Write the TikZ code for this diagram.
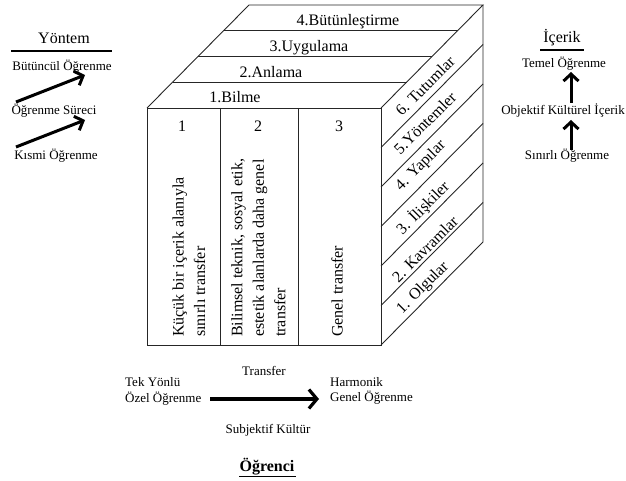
\documentclass[tikz,border=0pt]{standalone}
\usepackage{fontspec}
\setmainfont{Liberation Serif}
\usetikzlibrary{arrows.meta}
\begin{document}
\begin{tikzpicture}[x=1pt,y=-1pt,
  cube/.style={line width=0.9pt, draw=black!85, line join=miter},
  big/.style={font=\fontsize{16}{21.5}\selectfont, inner sep=0pt},
  sm/.style={font=\fontsize{13}{15.5}\selectfont, inner sep=0pt},
  arr/.style={line width=3pt, -{Straight Barb[length=7pt,width=15pt]}},
  barr/.style={line width=3.2pt, -{Straight Barb[length=8pt,width=19pt]}},
  rule/.style={line width=1.8pt},
]
\useasboundingbox (0,0) rectangle (626,481);

% ---- cube ----
\coordinate (FTL) at (147,108);
\coordinate (FTR) at (381,108);
\coordinate (FBR) at (381,345);
\coordinate (FBL) at (147,345);
\coordinate (BTL) at (249,5);
\coordinate (BTR) at (483,5);
\coordinate (BBR) at (483,242);
\draw[cube] (FTL) rectangle (FBR);
\draw[cube] (FTL) -- (BTL) -- (BTR) -- (FTR);
\draw[cube] (BTR) -- (BBR) -- (FBR);
% top face strips
\foreach \t in {0.25,0.5,0.75}{
  \draw[cube] (249-\t*102, 5+\t*103) -- (483-\t*102, 5+\t*103);
}
% right face strips
\foreach \k in {1,...,5}{
  \draw[cube] (381, 108+\k*39.5) -- (483, 5+\k*39.5);
}
% front columns
\draw[cube] (220,108) -- (220,345);
\draw[cube] (298,108) -- (298,345);

% top labels
\node[big, anchor=base] (t4) at (348,25.5) {4.Bütünleştirme};
\node[big, anchor=base] (t3) at (309,52) {3.Uygulama};
\node[big, anchor=base] (t2) at (271,77.5) {2.Anlama};
\node[big, anchor=base] (t1) at (235,102.5) {1.Bilme};

% column numbers
\node[big, anchor=base] (n1) at (182,132) {1};
\node[big, anchor=base] (n2) at (258,132) {2};
\node[big, anchor=base] (n3) at (339,132) {3};

% column texts
\node[big, rotate=90, anchor=west, align=left] (c1) at (189,337)
  {Küçük bir içerik alanıyla\\sınırlı transfer};
\node[big, rotate=90, anchor=west, align=left] (c2) at (258.5,337)
  {Bilimsel teknik, sosyal etik,\\estetik alanlarda daha genel\\transfer};
\node[big, rotate=90, anchor=west, align=left] (c3) at (337,337)
  {Genel transfer};

% right face labels
\node[big, rotate=45] (r6) at (425,86) {6. Tutumlar};
\node[big, rotate=45] (r5) at (425,123) {5.Yöntemler};
\node[big, rotate=45] (r4) at (421,166) {4. Yapılar};
\node[big, rotate=45] (r3) at (423,208) {3. İlişkiler};
\node[big, rotate=45] (r2) at (425,249) {2. Kavramlar};
\node[big, rotate=45] (r1) at (423,288) {1. Olgular};

% ---- left: Yöntem ----
\node[big, anchor=base] (yon) at (64,44) {Yöntem};
\draw[rule] (11,51) -- (112,51);
\node[sm, anchor=base] (bo) at (62,70.7) {Bütüncül Öğrenme};
\node[sm, anchor=base] (os) at (54,115) {Öğrenme Süreci};
\node[sm, anchor=base] (ko) at (56,160) {Kısmi Öğrenme};
\coordinate (a1s) at (16,102);
\coordinate (a1e) at (85,75);
\coordinate (a2s) at (16,147);
\coordinate (a2e) at (85,120);
\draw[arr] (a1s) -- (a1e);
\draw[arr] (a2s) -- (a2e);

% ---- right: İçerik ----
\node[big, anchor=base] (ice) at (562,43) {İçerik};
\draw[rule] (540,50) -- (584,50);
\node[sm, anchor=base] (to) at (564,68) {Temel Öğrenme};
\node[sm, anchor=base] (ok) at (563,115) {Objektif Kültürel İçerik};
\node[sm, anchor=base] (so) at (567,160) {Sınırlı Öğrenme};
\coordinate (b1s) at (571,103);
\coordinate (b1e) at (571,72);
\coordinate (b2s) at (571,150);
\coordinate (b2e) at (571,120);
\draw[arr] (b1s) -- (b1e);
\draw[arr] (b2s) -- (b2e);

% ---- bottom ----
\node[sm, anchor=base] (tr) at (264,375) {Transfer};
\node[sm, anchor=base west] (ty) at (125,386.7) {Tek Yönlü};
\node[sm, anchor=base west] (oz) at (125,402.7) {Özel Öğrenme};
\node[sm, anchor=base west] (ha) at (330,386) {Harmonik};
\node[sm, anchor=base west] (ge) at (330,401.7) {Genel Öğrenme};
\node[sm, anchor=base] (sk) at (268,433) {Subjektif Kültür};
\coordinate (cs) at (210,399);
\coordinate (ce) at (319,399);
\draw[barr] (cs) -- (ce);
\node[big, anchor=base] (og) at (267,471.5) {\textbf{Öğrenci}};
\draw[line width=1.2pt] (og.south west) ++(0,1.5) -- ++(56.5,0);
\end{tikzpicture}
\end{document}
